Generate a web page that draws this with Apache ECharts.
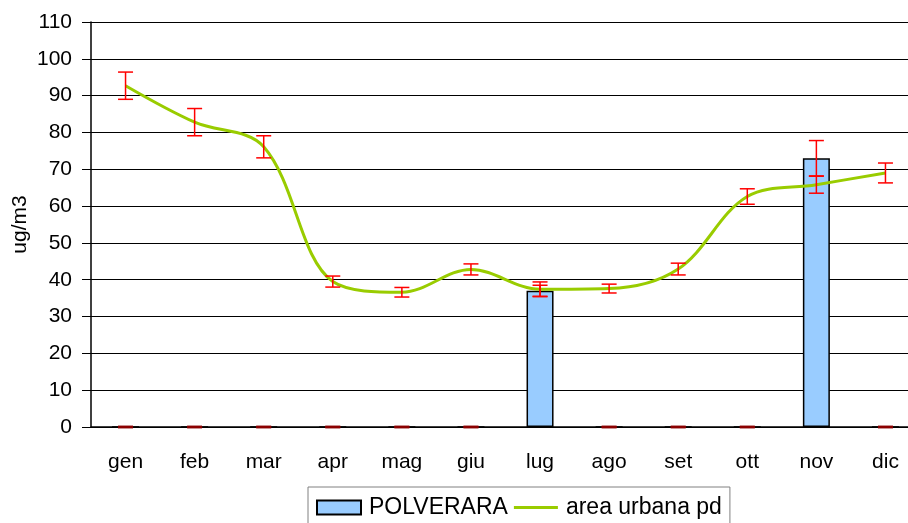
<!DOCTYPE html>
<html>
<head>
<meta charset="utf-8">
<script src="https://cdn.jsdelivr.net/npm/echarts@6/dist/echarts.min.js"></script>
<style>
  html, body { margin: 0; padding: 0; background: #fff; }
  #chart { width: 908px; height: 523px; }
</style>
</head>
<body>
<div id="chart"></div>
<script>
const months = ['gen', 'feb', 'mar', 'apr', 'mag', 'giu', 'lug', 'ago', 'set', 'ott', 'nov', 'dic']

// POLVERARA (barre) e relativo errore
const polverara = [0, 0, 0, 0, 0, 0, 37, 0, 0, 0, 73, 0]
const polveraraErr = [0, 0, 0, 0, 0, 0, 1.5, 0, 0, 0, 4.8, 0]

// area urbana pd (linea) e relativo errore
const areaUrbana = [92.7, 82.8, 76.1, 39.5, 36.6, 42.8, 37.4, 37.6, 42.9, 62.6, 65.8, 69.0]
const areaUrbanaErr = [3.7, 3.7, 3.0, 1.5, 1.3, 1.5, 2.0, 1.2, 1.6, 2.1, 2.3, 2.7]

const yTicks = [0, 110, 10]   // min, max, passo

const font = 'Liberation Sans, Arial, sans-serif'

// icona legenda: solo la linea, senza pallino
const lineIcon = 'path://M0,0L0.01,0L0.01,0.01Z M0,5.5H44V8.5H0Z M43.99,13.99L44,13.99L44,14Z'

// barre d'errore disegnate con una serie custom
function errorBars(api) {
  const i = api.value(0)
  const v = api.value(1)
  const e = api.value(2)
  const hi = api.coord([i, v + e])
  const lo = api.coord([i, v - e])
  const half = 7.5
  const style = e === 0
    ? { stroke: '#8b0000', lineWidth: 2.5 }
    : { stroke: '#ff0000', lineWidth: 1.5 }
  return {
    type: 'group',
    children: [
      { type: 'line', shape: { x1: hi[0], y1: hi[1], x2: lo[0], y2: lo[1] }, style },
      { type: 'line', shape: { x1: hi[0] - half, y1: hi[1], x2: hi[0] + half, y2: hi[1] }, style },
      { type: 'line', shape: { x1: lo[0] - half, y1: lo[1], x2: lo[0] + half, y2: lo[1] }, style }
    ]
  }
}

let chart = echarts.init(document.getElementById('chart'))

let option = {
  animation: false,
  textStyle: { fontFamily: font },
  grid: { left: 91, top: 22, width: 829, height: 405, outerBoundsMode: 'none' },
  legend: {
    left: 308,
    top: 487,
    padding: [9, 8, 20, 8],
    borderColor: '#808080',
    borderWidth: 1,
    itemWidth: 44,
    itemHeight: 14,
    itemGap: 6,
    textStyle: { fontSize: 23, color: '#000', fontFamily: font, padding: [0, 0, 0, 3] },
    data: [
      { name: 'POLVERARA', icon: 'rect' },
      { name: 'area urbana pd', icon: lineIcon }
    ]
  },
  xAxis: {
    type: 'category',
    data: months,
    axisLine: { lineStyle: { color: '#000', width: 1.5 } },
    axisTick: { length: 6, lineStyle: { color: '#808080', width: 1.5 } },
    axisLabel: { fontSize: 21, color: '#000', margin: 25, fontFamily: font }
  },
  yAxis: {
    type: 'value',
    min: yTicks[0],
    max: yTicks[1],
    interval: yTicks[2],
    name: 'ug/m3',
    nameLocation: 'middle',
    nameGap: 60,
    nameMoveOverlap: false,
    nameTextStyle: { fontSize: 21, color: '#000', fontFamily: font },
    axisLine: { show: true, lineStyle: { color: '#000', width: 1.5 } },
    axisTick: { show: true, length: 9, lineStyle: { color: '#000' } },
    axisLabel: { fontSize: 21, color: '#000', margin: 19, fontFamily: font },
    splitLine: { lineStyle: { color: '#000', width: 1 } }
  },
  series: [
    {
      name: 'POLVERARA',
      type: 'bar',
      data: polverara,
      barWidth: 27,
      itemStyle: { color: '#99ccff', borderColor: '#000', borderWidth: 1.5 }
    },
    {
      name: 'area urbana pd',
      type: 'line',
      data: areaUrbana,
      smooth: 0.35,
      symbol: 'none',
      lineStyle: { color: '#99cc00', width: 3 },
      itemStyle: { color: '#99cc00' },
      z: 3
    },
    {
      type: 'custom',
      renderItem: (params, api) => errorBars(api),
      data: polverara.map((v, i) => [i, v, polveraraErr[i]]),
      z: 4
    },
    {
      type: 'custom',
      renderItem: (params, api) => errorBars(api),
      data: areaUrbana.map((v, i) => [i, v, areaUrbanaErr[i]]),
      z: 4
    }
  ]
}

chart.setOption(option)
</script>
</body>
</html>
